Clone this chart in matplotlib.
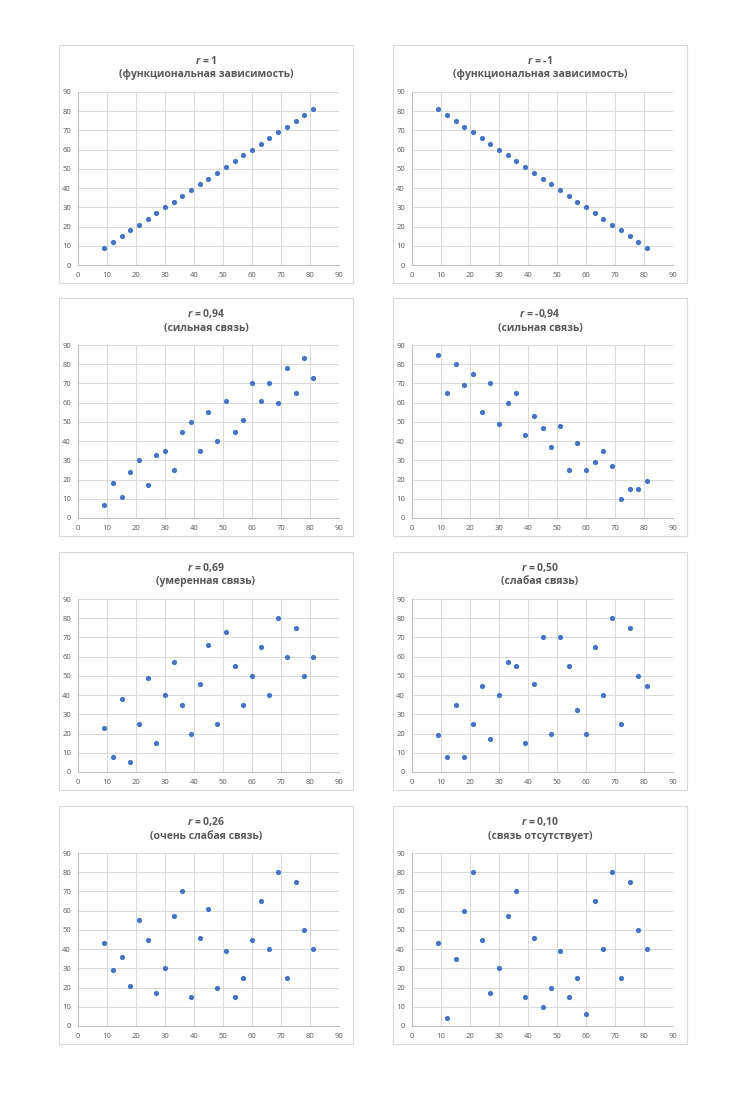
import matplotlib
matplotlib.use('Agg')
import matplotlib.pyplot as plt
from matplotlib.patches import Rectangle

plt.rcParams['font.family'] = ['Open Sans', 'DejaVu Sans']
plt.rcParams['mathtext.fontset'] = 'custom'
plt.rcParams['mathtext.it'] = 'Open Sans:italic:bold'
plt.rcParams['mathtext.rm'] = 'Open Sans:bold'

x = [9, 12, 15, 18, 21, 24, 27, 30, 33, 36, 39, 42, 45, 48, 51, 54, 57, 60, 63, 66, 69, 72, 75, 78, 81]

y_r100 = [9, 12, 15, 18, 21, 24, 27, 30, 33, 36, 39, 42, 45, 48, 51, 54, 57, 60, 63, 66, 69, 72, 75, 78, 81]
y_rm100 = [81, 78, 75, 72, 69, 66, 63, 60, 57, 54, 51, 48, 45, 42, 39, 36, 33, 30, 27, 24, 21, 18, 15, 12, 9]
y_r94 = [7, 18, 11, 24, 30, 17, 33, 35, 25, 45, 50, 35, 55, 40, 61, 45, 51, 70, 61, 70, 60, 78, 65, 83, 73]
y_rm94 = [85, 65, 80, 69, 75, 55, 70, 49, 60, 65, 43, 53, 47, 37, 48, 25, 39, 25, 29, 35, 27, 10, 15, 15, 19]
y_r69 = [23, 8, 38, 5, 25, 49, 15, 40, 57, 35, 20, 46, 66, 25, 73, 55, 35, 50, 65, 40, 80, 60, 75, 50, 60]
y_r50 = [19, 8, 35, 8, 25, 45, 17, 40, 57, 55, 15, 46, 70, 20, 70, 55, 32, 20, 65, 40, 80, 25, 75, 50, 45]
y_r26 = [43, 29, 36, 21, 55, 45, 17, 30, 57, 70, 15, 46, 61, 20, 39, 15, 25, 45, 65, 40, 80, 25, 75, 50, 40]
y_r10 = [43, 4, 35, 60, 80, 45, 17, 30, 57, 70, 15, 46, 10, 20, 39, 15, 25, 6, 65, 40, 80, 25, 75, 50, 40]

r_labels = ['1', '-1', '0,94', '-0,94', '0,69', '0,50', '0,26', '0,10']
captions = ['(функциональная зависимость)', '(функциональная зависимость)',
            '(сильная связь)', '(сильная связь)',
            '(умеренная связь)', '(слабая связь)',
            '(очень слабая связь)', '(связь отсутствует)']
series = [y_r100, y_rm100, y_r94, y_rm94, y_r69, y_r50, y_r26, y_r10]

W, H = 750, 1094
fig = plt.figure(figsize=(W / 100, H / 100), dpi=100)
fig.patch.set_facecolor('white')

box_w, box_h = 294, 238
lefts = [59, 393]
tops = [45, 298, 552, 806]
grey = '#595959'

for i, ys in enumerate(series):
    bx = lefts[i % 2]
    by = tops[i // 2]
    # chart frame
    fig.patches.append(Rectangle((bx / W, 1 - (by + box_h) / H), box_w / W, box_h / H,
                                 transform=fig.transFigure, facecolor='none',
                                 edgecolor='#D9D9D9', linewidth=0.8, zorder=-1))
    # plot area
    ax_l, ax_t = bx + 19, by + 47
    ax_w, ax_h = 261, 173
    ax = fig.add_axes([ax_l / W, 1 - (ax_t + ax_h) / H, ax_w / W, ax_h / H])
    ax.scatter(x, ys, s=14, color='#4472C4', zorder=3, linewidths=0)
    ax.set_xlim(0, 90)
    ax.set_ylim(0, 90)
    ax.set_xticks(range(0, 91, 10))
    ax.set_yticks(range(0, 91, 10))
    ax.grid(True, color='#D9D9D9', linewidth=0.7)
    ax.set_axisbelow(True)
    for side in ['top', 'right']:
        ax.spines[side].set_visible(False)
    for side in ['left', 'bottom']:
        ax.spines[side].set_color('#BFBFBF')
        ax.spines[side].set_linewidth(0.8)
    ax.tick_params(length=0, labelsize=5.5, labelcolor=grey, pad=5)

    cx = (bx + box_w / 2) / W
    fig.text(cx, 1 - (by + 16) / H, '$\\mathit{r}$ = ' + r_labels[i], ha='center', va='center',
             fontsize=7.5, fontweight='bold', color=grey)
    fig.text(cx, 1 - (by + 30) / H, captions[i], ha='center', va='center',
             fontsize=7.5, fontweight='bold', color=grey)

plt.savefig('out.png', dpi=100)
